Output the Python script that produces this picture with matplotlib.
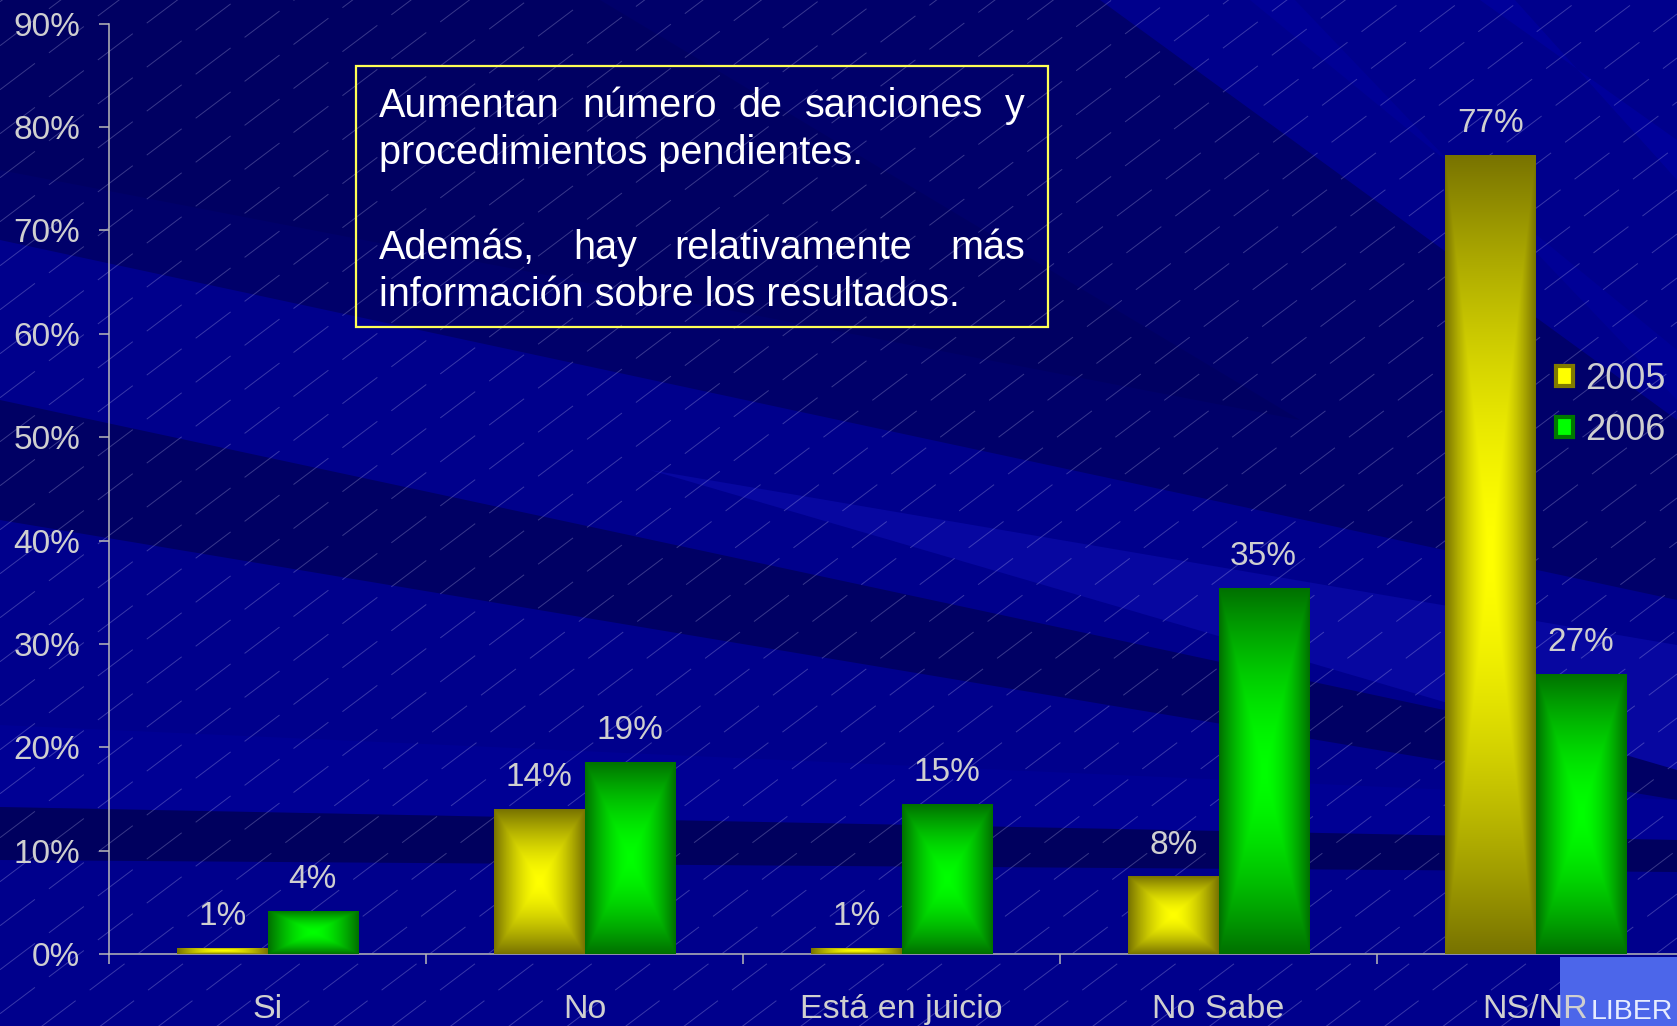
import numpy as np
import matplotlib
matplotlib.use("Agg")
import matplotlib.pyplot as plt
from matplotlib.patches import Polygon, Rectangle

# data
categories = ["Si", "No", "Está en juicio", "No Sabe", "NS/NR"]
years = ["2005", "2006"]
values_2005 = [0.6, 14.0, 0.6, 7.5, 77.3]
values_2006 = [4.2, 18.6, 14.5, 35.4, 27.1]
labels_2005 = ["1%", "14%", "1%", "8%", "77%"]
labels_2006 = ["4%", "19%", "15%", "35%", "27%"]
yticks = [0, 10, 20, 30, 40, 50, 60, 70, 80, 90]
note_lines = ["Aumentan número de sanciones y",
              "procedimientos pendientes.",
              "",
              "Además, hay relativamente más",
              "información sobre los resultados."]
note_justify = [True, False, False, True, False]

plt.rcParams['font.family'] = ['Liberation Sans', 'DejaVu Sans']

W, H = 1677, 1026
fig = plt.figure(figsize=(W / 100, H / 100), dpi=100)
fig.patch.set_facecolor("#00008c")


def fx(x):
    return x / W


def fy(y):
    return 1 - y / H


def band(pts, color):
    fig.add_artist(Polygon([(fx(x), fy(y)) for x, y in pts], closed=True,
                           facecolor=color, edgecolor='none',
                           transform=fig.transFigure, zorder=-10))


# background rays
band([(0, 0), (1100, 0), (1677, 420), (1677, 600), (0, 240)], "#00006a")
band([(0, 0), (600, 0), (1300, 420), (0, 170)], "#000062")
band([(1250, 0), (1295, 0), (1677, 400), (1677, 350)], "#000096")
band([(1480, 0), (1515, 0), (1677, 180), (1677, 140)], "#00009a")
band([(0, 400), (0, 520), (1677, 800), (1677, 760)], "#000064")
band([(650, 470), (1677, 645), (1677, 770)], "#0707a0")
band([(0, 725), (1677, 800), (1677, 840), (0, 807)], "#000094")
band([(0, 807), (1677, 840), (1677, 872), (0, 860)], "#00005e")

# faint diagonal texture
tan = np.tan(np.radians(37))
for b in np.arange(-W * tan, H + 60, 44):
    fig.add_artist(plt.Line2D([0, 1], [b / H, (b + W * tan) / H],
                              transform=fig.transFigure, color=(0.85, 0.85, 1, 0.26),
                              lw=0.7, dashes=(45, 18), zorder=-5))

ax = fig.add_axes([fx(109), (H - 954) / H, 1585 / W, (954 - 23.7) / H])
ax.set_facecolor('none')

x = np.arange(len(categories))
w = 0.285
bars_05 = ax.bar(x - w / 2, values_2005, w, color="#807a00", lw=0, zorder=2)
bars_06 = ax.bar(x + w / 2, values_2006, w, color="#007800", lw=0, zorder=2)


def shade(bar, center, edge):
    x0, y0 = bar.get_x(), bar.get_y()
    bw, bh = bar.get_width(), bar.get_height()
    u = np.abs(np.linspace(-1, 1, 121))
    v = np.abs(np.linspace(-1, 1, 301))
    t = np.maximum(u[None, :], v[:, None]) ** 1.6
    rgb = (np.array(center)[None, None, :] * (1 - t[..., None])
           + np.array(edge)[None, None, :] * t[..., None])
    im = ax.imshow(rgb, extent=(x0, x0 + bw, y0, y0 + bh), origin='lower',
                   aspect='auto', interpolation='bilinear', zorder=3)
    im.set_clip_path(bar)


for b in bars_05:
    shade(b, (1.0, 1.0, 0.0), (0.47, 0.45, 0.0))
for b in bars_06:
    shade(b, (0.0, 1.0, 0.0), (0.0, 0.44, 0.0))

lab_color = "#cfcfcf"
for bars, labs in ((bars_05, labels_2005), (bars_06, labels_2006)):
    for b, s in zip(bars, labs):
        ax.annotate(s, (b.get_x() + b.get_width() / 2, b.get_height()),
                    xytext=(0, 16.5), textcoords='offset points',
                    ha='center', va='baseline', fontsize=24, color=lab_color, zorder=5)

ax.set_xlim(-0.5, len(categories) - 0.5)
ax.set_ylim(0, 90)
ax.set_yticks(yticks)
ax.set_yticklabels([f"{v}%" for v in yticks])
ax.set_xticks(np.arange(-0.5, len(categories), 1))
ax.set_xticklabels([])
ax.set_xticks(x, minor=True)
ax.set_xticklabels(categories, minor=True)
ax.tick_params(axis='x', which='major', length=7.2, width=1.1, color="#b8b8b8", direction='out')
ax.tick_params(axis='x', which='minor', length=0, pad=29, labelsize=24.5, labelcolor=lab_color)
ax.tick_params(axis='y', length=7.2, width=1.1, color="#b8b8b8", pad=13.5,
               labelsize=24, labelcolor=lab_color)
for side in ('top', 'right'):
    ax.spines[side].set_visible(False)
for side in ('left', 'bottom'):
    ax.spines[side].set_color("#b8b8b8")
    ax.spines[side].set_linewidth(1.1)

# legend
handles = [Rectangle((0, 0), 1, 1, facecolor="#ffff00", edgecolor="#807a00", lw=3),
           Rectangle((0, 0), 1, 1, facecolor="#00ff00", edgecolor="#007800", lw=3)]
leg = fig.legend(handles, years, loc='center left', bbox_to_anchor=(fx(1556), fy(405)),
                 bbox_transform=fig.transFigure, frameon=False, fontsize=26,
                 handlelength=0.46, handleheight=0.46, handletextpad=0.35,
                 labelspacing=0.45, borderpad=0, borderaxespad=0)
for t in leg.get_texts():
    t.set_color(lab_color)

# note box
fig.add_artist(Rectangle((fx(356), fy(327)), (1048 - 356) / W, (327 - 66) / H,
                         fill=False, edgecolor="#ffff55", lw=1.6,
                         transform=fig.transFigure, zorder=6))
renderer = fig.canvas.get_renderer()
left, right = 379, 1025
base0, pitch = 117, 47.3
for i, (line, just) in enumerate(zip(note_lines, note_justify)):
    if not line:
        continue
    yb = fy(base0 + i * pitch)
    if not just:
        fig.text(fx(left), yb, line, fontsize=28.5, color='white', va='baseline', zorder=7)
        continue
    words = line.split()
    txts = [fig.text(0, yb, wd, fontsize=28.5, color='white', va='baseline', zorder=7)
            for wd in words]
    widths = [t.get_window_extent(renderer).width for t in txts]
    gap = (right - left - sum(widths)) / (len(words) - 1)
    xpos = left
    for t, wd in zip(txts, widths):
        t.set_x(fx(xpos))
        xpos += wd + gap

# corner tag
fig.add_artist(Rectangle((fx(1560), 0), (W - 1560) / W, (H - 957) / H,
                         facecolor="#4c66ea", edgecolor='none',
                         transform=fig.transFigure, zorder=-1))
fig.text(fx(1591), fy(1019), "LIBER", fontsize=20.5, color="#e6ecff", va='baseline', zorder=8)

fig.savefig("out.png", dpi=100, facecolor=fig.get_facecolor())
